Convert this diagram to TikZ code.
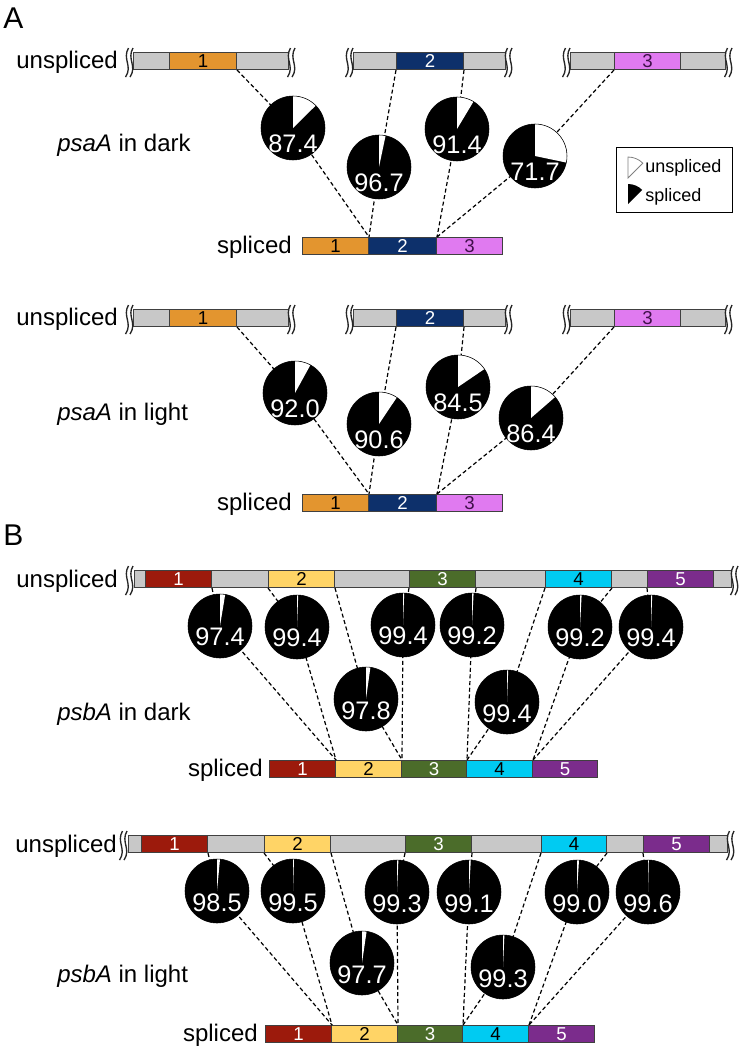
\documentclass[tikz,border=0pt]{standalone}
\usepackage{fontspec}
\setmainfont{Liberation Sans}
\usetikzlibrary{calc}
\definecolor{gbarc}{HTML}{C8C8C8}
\definecolor{exorange}{HTML}{E3952F}
\definecolor{exnavy}{HTML}{0D306B}
\definecolor{expink}{HTML}{E07AF0}
\definecolor{pinktxt}{HTML}{40104A}
\definecolor{exred}{HTML}{9C1A0C}
\definecolor{exyellow}{HTML}{FFD466}
\definecolor{exgreen}{HTML}{4B6C2A}
\definecolor{excyan}{HTML}{00CBF2}
\definecolor{expurple}{HTML}{7B2C8C}
\tikzset{
  bar/.style={draw=black!75, line width=0.75pt, fill=gbarc, minimum height=12.75pt, inner sep=0pt, anchor=north west},
  exon/.style={bar, font=\fontsize{14}{15}\selectfont},
  txt/.style={font=\fontsize{18}{20}\selectfont, inner sep=0pt},
  legtxt/.style={font=\fontsize{13.5}{15}\selectfont, inner sep=0pt},
  biglbl/.style={font=\fontsize{22.5}{24}\selectfont, inner sep=0pt},
  link/.style={line width=0.9pt, dash pattern=on 3pt off 2pt},
  brk/.style={line width=1pt, draw=black!85},
  num/.style={text=white, font=\fontsize{19}{21}\selectfont, inner sep=0pt},
}
\newcommand\GBar[4]{\node[bar, minimum width={(#3-#2)*0.75pt}] (#1) at (#2,-#4) {};}
\newcommand\Exon[7]{\node[exon, fill=#5, text=#6, minimum width={(#3-#2)*0.75pt}] (#1) at (#2,-#4) {#7};}
\newcommand\Brk[3]{\draw[brk] (#1+1.5,-#2+4) .. controls (#1-5,-#2-7) and (#1+6,-#3+3) .. (#1-1.5,-#3-8);}
\newcommand\BrkPair[3]{\Brk{#1}{#2}{#3}\Brk{#1+4.5}{#2}{#3}}
\newcommand\Pie[3]{%
  \fill (#1) circle[radius=32];
  \fill[white] (#1) -- ++(0,32) arc[start angle=90, end angle={90-3.6*(100-#2)}, radius=32] -- cycle;
  \draw[line width=0.4pt] (#1) circle[radius=32];
  \node[num] (#1n) at ($(#1)+(0,-#3)$) {#2};}
\begin{document}
\begin{tikzpicture}[x=0.75pt,y=0.75pt]
\useasboundingbox (0,0) rectangle (744,-1050);
% ---------------- Panel A ----------------
\node[biglbl, anchor=base west] (labA) at (3,-28) {A};
% A dark unspliced
\node[txt, anchor=base east] (tuAd) at (118,-68.5) {unspliced};
\GBar{gAd1}{133}{288}{52} \Exon{uAd1}{169}{236}{52}{exorange}{black}{1}
\GBar{gAd2}{353}{505}{52} \Exon{uAd2}{396}{463}{52}{exnavy}{white}{2}
\GBar{gAd3}{570}{725}{52} \Exon{uAd3}{614}{680}{52}{expink}{pinktxt}{3}
\BrkPair{127}{52}{69}\BrkPair{289}{52}{69}
\BrkPair{347}{52}{69}\BrkPair{506}{52}{69}
\BrkPair{564}{52}{69}\BrkPair{726}{52}{69}
% A dark spliced
\node[txt, anchor=base east] (tsAd) at (292,-253) {spliced};
\Exon{sAd1}{302}{368}{237}{exorange}{black}{1}
\Exon{sAd2}{368}{436}{237}{exnavy}{white}{2}
\Exon{sAd3}{436}{502}{237}{expink}{pinktxt}{3}
\node[txt, anchor=base west] (gAd) at (57,-151) {\itshape psaA\upshape{} in dark};
\coordinate (pAd1) at (293,-128);
\coordinate (pAd2) at (379,-167);
\coordinate (pAd3) at (457,-129);
\coordinate (pAd4) at (535,-156);
\draw[link] (uAd1.south east) -- (pAd1) -- (sAd1.north east);
\draw[link] (uAd2.south west) -- (pAd2) -- (sAd1.north east);
\draw[link] (uAd2.south east) -- (pAd3) -- (sAd2.north east);
\draw[link] (uAd3.south west) -- (pAd4) -- (sAd2.north east);
\Pie{pAd1}{87.4}{16}
\Pie{pAd2}{96.7}{16}
\Pie{pAd3}{91.4}{16}
\Pie{pAd4}{71.7}{16}
% legend
\node[draw, line width=0.9pt, minimum width=87pt, minimum height=48.75pt, inner sep=0pt, anchor=north west] (leg) at (616,-147) {};
\filldraw[fill=white, draw=black!50, line width=0.6pt] (628,-178) -- ++(0,21) arc[start angle=90, end angle=45, radius=21] -- cycle;
\fill (628,-204) -- ++(0,20) arc[start angle=90, end angle=45, radius=20] -- cycle;
\node[legtxt, anchor=base west] (legu) at (645,-172) {unspliced};
\node[legtxt, anchor=base west] (legs) at (645,-201) {spliced};
% A light unspliced
\node[txt, anchor=base east] (tuAl) at (118,-325.5) {unspliced};
\GBar{gAl1}{133}{288}{309} \Exon{uAl1}{169}{236}{309}{exorange}{black}{1}
\GBar{gAl2}{353}{505}{309} \Exon{uAl2}{396}{463}{309}{exnavy}{white}{2}
\GBar{gAl3}{570}{725}{309} \Exon{uAl3}{614}{680}{309}{expink}{pinktxt}{3}
\BrkPair{127}{309}{326}\BrkPair{289}{309}{326}
\BrkPair{347}{309}{326}\BrkPair{506}{309}{326}
\BrkPair{564}{309}{326}\BrkPair{726}{309}{326}
\node[txt, anchor=base east] (tsAl) at (292,-510) {spliced};
\Exon{sAl1}{302}{368}{494}{exorange}{black}{1}
\Exon{sAl2}{368}{436}{494}{exnavy}{white}{2}
\Exon{sAl3}{436}{502}{494}{expink}{pinktxt}{3}
\node[txt, anchor=base west] (gAl) at (57,-420) {\itshape psaA\upshape{} in light};
\coordinate (pAl1) at (295,-393);
\coordinate (pAl2) at (379,-424);
\coordinate (pAl3) at (458,-387);
\coordinate (pAl4) at (531,-418);
\draw[link] (uAl1.south east) -- (pAl1) -- (sAl1.north east);
\draw[link] (uAl2.south west) -- (pAl2) -- (sAl1.north east);
\draw[link] (uAl2.south east) -- (pAl3) -- (sAl2.north east);
\draw[link] (uAl3.south west) -- (pAl4) -- (sAl2.north east);
\Pie{pAl1}{92.0}{16}
\Pie{pAl2}{90.6}{16}
\Pie{pAl3}{84.5}{16}
\Pie{pAl4}{86.4}{16}
% ---------------- Panel B ----------------
\node[biglbl, anchor=base west] (labB) at (3,-545) {B};
% B dark
\node[txt, anchor=base east] (tuBd) at (118,-587) {unspliced};
\GBar{gBd}{134}{731}{570}
\Exon{uBd1}{145}{211}{570}{exred}{white}{1}
\Exon{uBd2}{268}{334}{570}{exyellow}{black}{2}
\Exon{uBd3}{409}{475}{570}{exgreen}{white}{3}
\Exon{uBd4}{545}{611}{570}{excyan}{black}{4}
\Exon{uBd5}{647}{713}{570}{expurple}{white}{5}
\BrkPair{127}{570}{587}\BrkPair{732}{570}{587}
\node[txt, anchor=base east] (tsBd) at (263,-776) {spliced};
\Exon{sBd1}{269}{335}{760}{exred}{white}{1}
\Exon{sBd2}{335}{401}{760}{exyellow}{black}{2}
\Exon{sBd3}{401}{466}{760}{exgreen}{white}{3}
\Exon{sBd4}{466}{532}{760}{excyan}{black}{4}
\Exon{sBd5}{532}{597}{760}{expurple}{white}{5}
\node[txt, anchor=base west] (gBd) at (57,-720) {\itshape psbA\upshape{} in dark};
\coordinate (pBd1) at (220,-626);
\coordinate (pBd2) at (297,-627);
\coordinate (pBd3) at (366,-699);
\coordinate (pBd4) at (403,-625);
\coordinate (pBd5) at (472,-625);
\coordinate (pBd6) at (507,-702);
\coordinate (pBd7) at (580,-627);
\coordinate (pBd8) at (651,-627);
\draw[link] (uBd1.south east) -- (pBd1) -- (sBd1.north east);
\draw[link] (uBd2.south west) -- (pBd2) -- (sBd1.north east);
\draw[link] (uBd2.south east) -- (pBd3) -- (sBd2.north east);
\draw[link] (uBd3.south west) -- (pBd4) -- (sBd2.north east);
\draw[link] (uBd3.south east) -- (pBd5) -- (sBd3.north east);
\draw[link] (uBd4.south west) -- (pBd6) -- (sBd3.north east);
\draw[link] (uBd4.south east) -- (pBd7) -- (sBd4.north east);
\draw[link] (uBd5.south west) -- (pBd8) -- (sBd4.north east);
\Pie{pBd1}{97.4}{11}
\Pie{pBd2}{99.4}{11}
\Pie{pBd3}{97.8}{12}
\Pie{pBd4}{99.4}{11}
\Pie{pBd5}{99.2}{11}
\Pie{pBd6}{99.4}{12}
\Pie{pBd7}{99.2}{11}
\Pie{pBd8}{99.4}{11}
% B light
\node[txt, anchor=base east] (tuBl) at (117,-852) {unspliced};
\GBar{gBl}{128}{727}{835}
\Exon{uBl1}{141}{207}{835}{exred}{white}{1}
\Exon{uBl2}{264}{330}{835}{exyellow}{black}{2}
\Exon{uBl3}{405}{471}{835}{exgreen}{white}{3}
\Exon{uBl4}{541}{606}{835}{excyan}{black}{4}
\Exon{uBl5}{643}{709}{835}{expurple}{white}{5}
\BrkPair{121}{835}{852}\BrkPair{728}{835}{852}
\node[txt, anchor=base east] (tsBl) at (258,-1041) {spliced};
\Exon{sBl1}{265}{331}{1025}{exred}{white}{1}
\Exon{sBl2}{331}{397}{1025}{exyellow}{black}{2}
\Exon{sBl3}{397}{462}{1025}{exgreen}{white}{3}
\Exon{sBl4}{462}{528}{1025}{excyan}{black}{4}
\Exon{sBl5}{528}{594}{1025}{expurple}{white}{5}
\node[txt, anchor=base west] (gBl) at (57,-982) {\itshape psbA\upshape{} in light};
\coordinate (pBl1) at (217,-891);
\coordinate (pBl2) at (293,-891);
\coordinate (pBl3) at (362,-963);
\coordinate (pBl4) at (397,-892);
\coordinate (pBl5) at (469,-892);
\coordinate (pBl6) at (503,-967);
\coordinate (pBl7) at (577,-892);
\coordinate (pBl8) at (648,-892);
\draw[link] (uBl1.south east) -- (pBl1) -- (sBl1.north east);
\draw[link] (uBl2.south west) -- (pBl2) -- (sBl1.north east);
\draw[link] (uBl2.south east) -- (pBl3) -- (sBl2.north east);
\draw[link] (uBl3.south west) -- (pBl4) -- (sBl2.north east);
\draw[link] (uBl3.south east) -- (pBl5) -- (sBl3.north east);
\draw[link] (uBl4.south west) -- (pBl6) -- (sBl3.north east);
\draw[link] (uBl4.south east) -- (pBl7) -- (sBl4.north east);
\draw[link] (uBl5.south west) -- (pBl8) -- (sBl4.north east);
\Pie{pBl1}{98.5}{12}
\Pie{pBl2}{99.5}{12}
\Pie{pBl3}{97.7}{12}
\Pie{pBl4}{99.3}{12}
\Pie{pBl5}{99.1}{12}
\Pie{pBl6}{99.3}{12}
\Pie{pBl7}{99.0}{12}
\Pie{pBl8}{99.6}{12}
\end{tikzpicture}
\end{document}
